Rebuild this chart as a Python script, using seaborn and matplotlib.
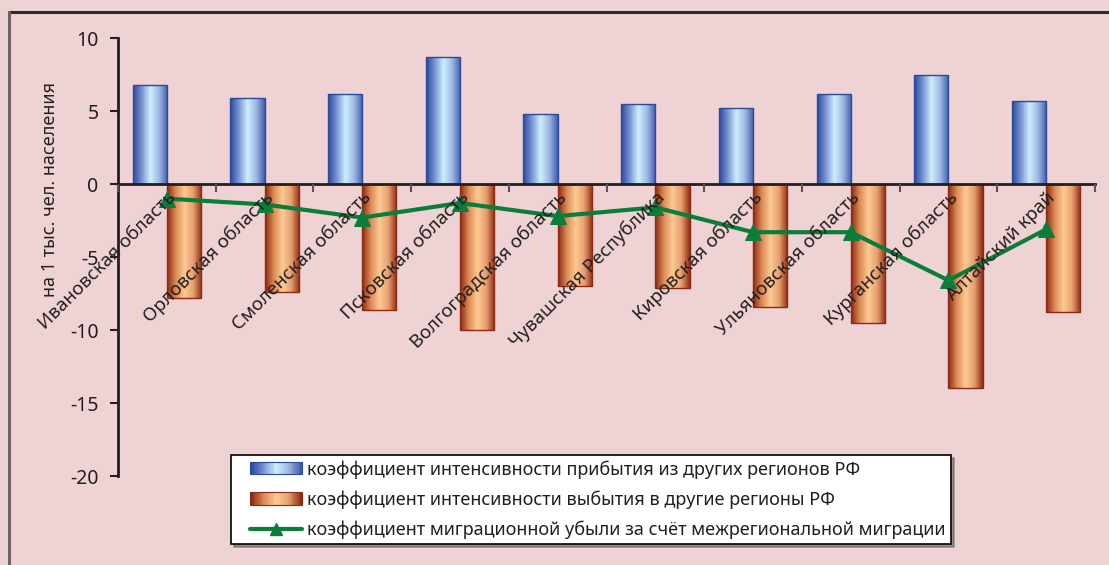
import matplotlib

matplotlib.use("Agg")
import matplotlib.pyplot as plt  # noqa: E402
import numpy as np  # noqa: E402
import pandas as pd  # noqa: E402
import seaborn as sns  # noqa: E402
from matplotlib.colors import LinearSegmentedColormap  # noqa: E402
from matplotlib.legend_handler import HandlerBase, HandlerLine2D  # noqa: E402
from matplotlib.lines import Line2D  # noqa: E402
from matplotlib.patches import Rectangle  # noqa: E402

regions = [
    "Ивановская область",
    "Орловская область",
    "Смоленская область",
    "Псковская область",
    "Волгоградская область",
    "Чувашская Республика",
    "Кировская область",
    "Ульяновская область",
    "Курганская область",
    "Алтайский край",
]
arrivals = [6.8, 5.9, 6.2, 8.7, 4.8, 5.5, 5.2, 6.2, 7.5, 5.7]
departures = [-7.8, -7.4, -8.6, -10.0, -7.0, -7.1, -8.4, -9.5, -14.0, -8.8]
net_loss = [-1.0, -1.4, -2.3, -1.3, -2.2, -1.6, -3.3, -3.3, -6.6, -3.1]

lbl_in = "коэффициент интенсивности прибытия из других регионов РФ"
lbl_out = "коэффициент интенсивности выбытия в другие регионы РФ"
lbl_net = "коэффициент миграционной убыли за счёт межрегиональной миграции"

BG = "#efd3d4"
TXT = "#231f20"
GREEN = "#0a7d3b"

blue_cmap = LinearSegmentedColormap.from_list(
    "blue_cyl", ["#2a479b", "#7894d3", "#cdeefc", "#9fb7e3", "#3d5cae"]
)
orange_cmap = LinearSegmentedColormap.from_list(
    "orange_cyl", ["#8a2710", "#dc8a55", "#fdca93", "#e7a070", "#8f2c13"]
)

df = pd.DataFrame(
    {
        "region": regions * 2,
        "value": arrivals + departures,
        "series": [lbl_in] * len(regions) + [lbl_out] * len(regions),
    }
)

sns.set_style("ticks")
plt.rcParams["font.family"] = ["Noto Sans", "DejaVu Sans"]

fig = plt.figure(figsize=(11.09, 5.65), dpi=100, facecolor=BG)
ax = fig.add_axes([0.1064, 0.1575, 0.8810, 0.7752])
ax.set_facecolor(BG)

sns.barplot(
    data=df,
    x="region",
    y="value",
    hue="series",
    order=regions,
    hue_order=[lbl_in, lbl_out],
    width=0.7,
    palette=["#4a68b4", "#d98a55"],
    legend=False,
    ax=ax,
)

# cylinder-like gradient fill clipped to every bar
grad = np.linspace(0, 1, 256).reshape(1, -1)
for p in list(ax.patches):
    x0, y0 = p.get_x(), p.get_y()
    w, h = p.get_width(), p.get_height()
    cmap = blue_cmap if h > 0 else orange_cmap
    edge = "#2a4b9c" if h > 0 else "#8a2a12"
    im = ax.imshow(
        grad,
        cmap=cmap,
        aspect="auto",
        extent=[x0, x0 + w, min(y0, y0 + h), max(y0, y0 + h)],
        origin="lower",
        zorder=p.get_zorder() - 0.01,
    )
    im.set_clip_path(p)
    p.set_facecolor("none")
    p.set_edgecolor(edge)
    p.set_linewidth(1.0)

sns.lineplot(
    x=np.arange(len(regions)),
    y=net_loss,
    color=GREEN,
    linewidth=3,
    marker="^",
    markersize=12,
    markeredgecolor=GREEN,
    ax=ax,
    zorder=5,
)

ax.set_xlim(-0.5, len(regions) - 0.5)
ax.set_ylim(-20, 10)
ax.set_yticks([10, 5, 0, -5, -10, -15, -20])
ax.set_yticklabels(["10", "5", "0", "-5", "-10", "-15", "-20"])

ax.spines["top"].set_visible(False)
ax.spines["right"].set_visible(False)
ax.spines["bottom"].set_position(("data", 0))
for s in ("left", "bottom"):
    ax.spines[s].set_linewidth(2)
    ax.spines[s].set_color(TXT)
    ax.spines[s].set_zorder(6)

ax.set_xticks(range(len(regions)))
ax.set_xticklabels(regions, rotation=45, ha="right", va="top", rotation_mode="anchor")
ax.tick_params(axis="x", which="major", length=0, pad=3, labelsize=13.5, labelcolor=TXT)
ax.set_xticks(np.arange(-0.5, len(regions), 1), minor=True)
ax.tick_params(axis="x", which="minor", length=6, width=1.5, color="#555555", direction="out")
ax.tick_params(axis="y", length=6, width=1.5, color=TXT, labelsize=14, labelcolor=TXT, pad=8)
ax.xaxis.set_zorder(7)
ax.yaxis.set_zorder(7)

ax.set_xlabel("")
ax.set_ylabel("на 1 тыс. чел. населения", fontsize=13, color=TXT)
ax.yaxis.set_label_coords(-0.060, 0.655)


class GradientHandler(HandlerBase):
    def __init__(self, cmap, edge, **kw):
        super().__init__(**kw)
        self.cmap = cmap
        self.edge = edge

    def create_artists(self, legend, orig_handle, xdescent, ydescent, width, height, fontsize, trans):
        n = 30
        arts = []
        for i in range(n):
            r = Rectangle(
                (-xdescent + width * i / n, -ydescent),
                width / n + 0.3,
                height,
                facecolor=self.cmap(i / (n - 1)),
                edgecolor="none",
                transform=trans,
            )
            arts.append(r)
        arts.append(
            Rectangle((-xdescent, -ydescent), width, height, facecolor="none",
                      edgecolor=self.edge, linewidth=0.8, transform=trans)
        )
        return arts


h_in = Rectangle((0, 0), 1, 1)
h_out = Rectangle((0, 0), 1, 1)
h_net = Line2D([], [], color=GREEN, linewidth=3, marker="^", markersize=9)

leg = fig.legend(
    [h_in, h_out, h_net],
    [lbl_in, lbl_out, lbl_net],
    handler_map={
        h_in: GradientHandler(blue_cmap, "#2a4b9c", xpad=0.78),
        h_out: GradientHandler(orange_cmap, "#8a2a12", xpad=0.78),
        h_net: HandlerLine2D(xpad=0.78),
    },
    loc="upper left",
    bbox_to_anchor=(0.2083, 0.1947),
    frameon=True,
    fancybox=False,
    shadow=True,
    edgecolor="black",
    facecolor="white",
    fontsize=13,
    handlelength=3.66,
    handleheight=0.67,
    handletextpad=0.28,
    labelspacing=0.66,
    borderpad=0.28,
    borderaxespad=0,
)
leg.get_frame().set_linewidth(1.2)
for t in leg.get_texts():
    t.set_color(TXT)

# outer chart-area border (top and left edges visible)
fig.add_artist(Line2D([9 / 1109, 1.0], [1 - 12 / 565] * 2, transform=fig.transFigure,
                      color="#2b2b2b", linewidth=2.2))
fig.add_artist(Line2D([9 / 1109] * 2, [0, 1 - 12 / 565], transform=fig.transFigure,
                      color="#6e6262", linewidth=2.2))

fig.savefig("out.png", dpi=100, facecolor=BG)
plt.close(fig)
